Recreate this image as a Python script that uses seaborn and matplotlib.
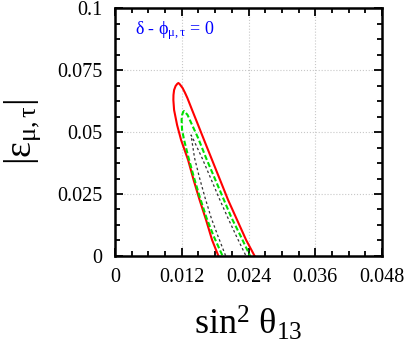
import numpy as np
import pandas as pd
import matplotlib
matplotlib.use("Agg")
import matplotlib.pyplot as plt
import seaborn as sns
from matplotlib.ticker import MultipleLocator

# contour outlines (sin^2 theta13, |eps_mu,tau|)
red_x = [0.01943, 0.01859, 0.01745, 0.01637, 0.01521, 0.01413, 0.01314, 0.01188, 0.01116,
         0.01062, 0.01049, 0.01051, 0.01062, 0.01089, 0.01116, 0.01139,
         0.01161, 0.01215, 0.01260, 0.01301, 0.01386, 0.01494, 0.01601, 0.01745,
         0.01889, 0.02033, 0.02195, 0.02357, 0.02510, 0.02645]
red_y = [-0.0056, 0.0, 0.00645, 0.01452, 0.02258, 0.03065, 0.03871, 0.04677, 0.05282,
         0.05887, 0.06290, 0.06492, 0.06694, 0.06855, 0.06935, 0.06976,
         0.06935, 0.06774, 0.06573, 0.06371, 0.05887, 0.05282, 0.04677, 0.03871,
         0.03065, 0.02258, 0.01452, 0.00645, 0.0, -0.0056]

green_x = [0.02015, 0.01934, 0.01772, 0.01646, 0.01529, 0.01422, 0.01323, 0.01242, 0.01206,
           0.01197, 0.01206, 0.01224, 0.01242,
           0.01260, 0.01305, 0.01386, 0.01494, 0.01637, 0.01790, 0.01943, 0.02096,
           0.02258, 0.02429, 0.02537]
green_y = [-0.0056, 0.0, 0.00806, 0.01532, 0.02339, 0.03145, 0.03952, 0.04677, 0.05081,
           0.05484, 0.05685, 0.05806, 0.05847,
           0.05806, 0.05685, 0.05282, 0.04758, 0.03952, 0.03145, 0.02339, 0.01532,
           0.00806, 0.0, -0.0056]

black_x = [0.02070, 0.01990, 0.01850, 0.01730, 0.01620, 0.01520, 0.01430, 0.01380, 0.01368,
           0.01386, 0.01413, 0.01565, 0.01718, 0.01870, 0.02030, 0.02180, 0.02355, 0.02455]
black_y = [-0.0056, 0.0, 0.00806, 0.01532, 0.02339, 0.03145, 0.03952, 0.04677, 0.04879,
           0.04798, 0.04677, 0.03952, 0.03145, 0.02339, 0.01532, 0.00806, 0.0, -0.0056]

x_ticks = [0, 0.012, 0.024, 0.036, 0.048]
x_tick_labels = ["0", "0.012", "0.024", "0.036", "0.048"]
y_ticks = [0, 0.025, 0.05, 0.075, 0.1]
y_tick_labels = ["0", "0.025", "0.05", "0.075", "0.1"]

sns.set_theme(style="ticks")
plt.rcParams["font.family"] = ["Liberation Serif", "DejaVu Serif"]
plt.rcParams["mathtext.fontset"] = "custom"
plt.rcParams["mathtext.rm"] = "Liberation Serif"
plt.rcParams["mathtext.it"] = "Liberation Serif"
plt.rcParams["mathtext.bf"] = "Liberation Serif:bold"
plt.rcParams["text.color"] = "black"
plt.rcParams["axes.labelcolor"] = "black"

fig = plt.figure(figsize=(4.07, 3.53), dpi=100)
ax = fig.add_axes([0.2826, 0.2748, 0.9386 - 0.2826, 0.9773 - 0.2748])

for xs, ys, col, ls, lw in [(red_x, red_y, "#ff0000", "-", 1.5),
                            (green_x, green_y, "#00e000", (0, (2.5, 1.2)), 1.5),
                            (black_x, black_y, "#333333", (0, (2, 2)), 0.9)]:
    df = pd.DataFrame({"x": xs, "y": ys})
    sns.lineplot(data=df, x="x", y="y", sort=False, estimator=None,
                 color=col, linestyle=ls, linewidth=lw, ax=ax)

ax.set_xlim(0, 0.048)
ax.set_ylim(0, 0.1)
ax.set_xticks(x_ticks)
ax.set_xticklabels(x_tick_labels)
ax.set_yticks(y_ticks)
ax.set_yticklabels(y_tick_labels)
ax.xaxis.set_minor_locator(MultipleLocator(0.003))
ax.yaxis.set_minor_locator(MultipleLocator(0.00625))
ax.tick_params(which="both", direction="in", top=True, right=True, width=1.3,
               colors="black", labelcolor="black")
ax.tick_params(which="major", length=6, labelsize=14.5, pad=9)
ax.tick_params(which="minor", length=3.5)
ax.grid(True, which="major", color="#c8c8c8", linestyle=":", linewidth=0.8)
for s in ax.spines.values():
    s.set_linewidth(1.8)
    s.set_color("black")

ax.set_xlabel(r"sin$^{2}$ $\theta_{13}$", fontsize=26, labelpad=12, color="black")
ax.set_ylabel(r"|$\epsilon_{\mu,\tau}$|", fontsize=27, labelpad=10, color="black")
ax.text(0.0108, 0.0910, r"$\delta$ - $\phi_{\mu,\tau}$ = 0", color="#0000ff",
        fontsize=13, ha="center", va="center")

fig.savefig("out.png", dpi=100)
